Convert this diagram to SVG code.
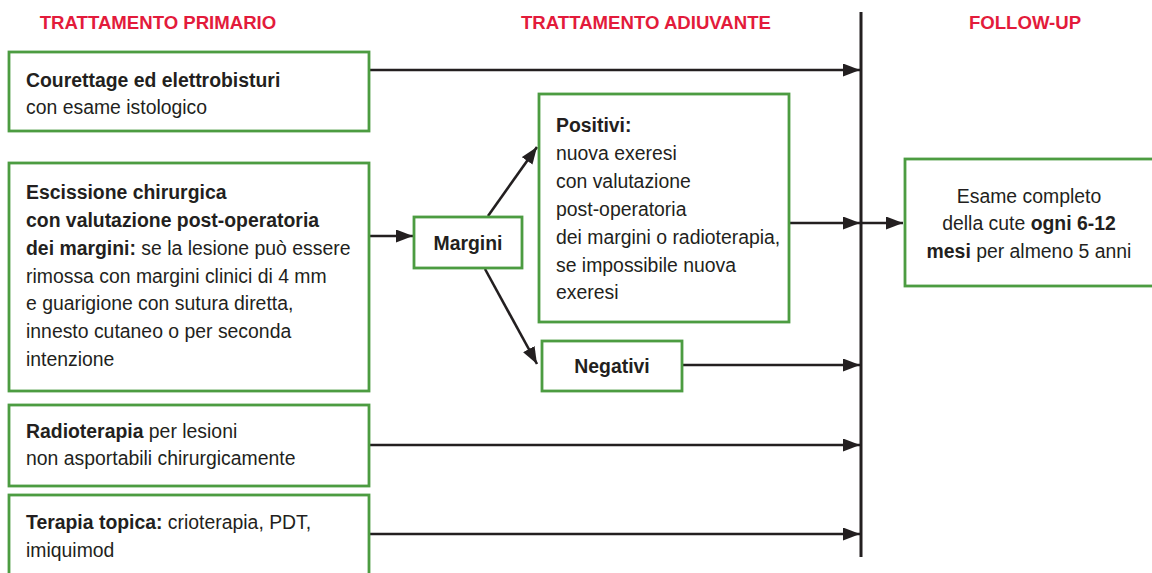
<svg xmlns="http://www.w3.org/2000/svg" width="1152" height="573" viewBox="0 0 1152 573">
<defs>
<style>
.hdr{font-family:"Liberation Sans",Arial,sans-serif;font-weight:bold;font-size:18.6px;fill:#e31b3b}
.t{font-family:"Liberation Sans",Arial,sans-serif;font-size:19.4px;fill:#231f20}
.b{font-weight:bold}
.box{fill:#fff;stroke:#4c9c41;stroke-width:2.8}
.c{stroke:#231f20;stroke-width:2.6;fill:none}
</style>
<marker id="ah" markerWidth="18" markerHeight="13" refX="17" refY="6.5" orient="auto" markerUnits="userSpaceOnUse">
<path d="M0,0 L17,6.5 L0,13 z" fill="#231f20"/>
</marker>
</defs>
<rect width="1152" height="573" fill="#fff"/>

<g id="headers">
<text class="hdr" x="158" y="29" text-anchor="middle">TRATTAMENTO PRIMARIO</text>
<text class="hdr" x="646" y="29" text-anchor="middle">TRATTAMENTO ADIUVANTE</text>
<text class="hdr" x="1025" y="29" text-anchor="middle">FOLLOW-UP</text>
</g>

<g id="connectors">
<line x1="861" y1="12" x2="861" y2="557" stroke="#231f20" stroke-width="3"/>
<line class="c" x1="370" y1="70" x2="860" y2="70" marker-end="url(#ah)"/>
<line class="c" x1="369" y1="236" x2="413" y2="236" marker-end="url(#ah)"/>
<line class="c" x1="488" y1="216" x2="537" y2="147" marker-end="url(#ah)"/>
<line class="c" x1="485" y1="269" x2="537" y2="364" marker-end="url(#ah)"/>
<line class="c" x1="789" y1="223" x2="860" y2="223" marker-end="url(#ah)"/>
<line class="c" x1="861" y1="223" x2="903" y2="223" marker-end="url(#ah)"/>
<line class="c" x1="682" y1="365" x2="860" y2="365" marker-end="url(#ah)"/>
<line class="c" x1="369" y1="445" x2="860" y2="445" marker-end="url(#ah)"/>
<line class="c" x1="369" y1="534" x2="860" y2="534" marker-end="url(#ah)"/>
</g>

<g id="courettage">
<rect class="box" x="9" y="52" width="360" height="79"/>
<text class="t" x="26" y="87"><tspan class="b">Courettage ed elettrobisturi</tspan></text>
<text class="t" x="26" y="114">con esame istologico</text>
</g>

<g id="escissione">
<rect class="box" x="9" y="163" width="360" height="228"/>
<text class="t" x="26" y="199"><tspan class="b">Escissione chirurgica</tspan></text>
<text class="t" x="26" y="227"><tspan class="b">con valutazione post-operatoria</tspan></text>
<text class="t" x="26" y="255"><tspan class="b">dei margini:</tspan> se la lesione può essere</text>
<text class="t" x="26" y="283">rimossa con margini clinici di 4 mm</text>
<text class="t" x="26" y="310">e guarigione con sutura diretta,</text>
<text class="t" x="26" y="338">innesto cutaneo o per seconda</text>
<text class="t" x="26" y="366">intenzione</text>
</g>

<g id="margini">
<rect class="box" x="414" y="217" width="108" height="51"/>
<text class="t b" x="468" y="250" text-anchor="middle">Margini</text>
</g>

<g id="positivi">
<rect class="box" x="539" y="94" width="250" height="228"/>
<text class="t" x="556" y="132"><tspan class="b">Positivi:</tspan></text>
<text class="t" x="556" y="160">nuova exeresi</text>
<text class="t" x="556" y="188">con valutazione</text>
<text class="t" x="556" y="216">post-operatoria</text>
<text class="t" x="556" y="244">dei margini o radioterapia,</text>
<text class="t" x="556" y="272">se impossibile nuova</text>
<text class="t" x="556" y="299">exeresi</text>
</g>

<g id="negativi">
<rect class="box" x="542" y="341" width="140" height="50"/>
<text class="t b" x="612" y="373" text-anchor="middle">Negativi</text>
</g>

<g id="radioterapia">
<rect class="box" x="9" y="405" width="360" height="81"/>
<text class="t" x="26" y="438"><tspan class="b">Radioterapia</tspan> per lesioni</text>
<text class="t" x="26" y="465">non asportabili chirurgicamente</text>
</g>

<g id="topica">
<rect class="box" x="9" y="495" width="360" height="90"/>
<text class="t" x="26" y="529"><tspan class="b">Terapia topica:</tspan> crioterapia, PDT,</text>
<text class="t" x="26" y="557">imiquimod</text>
</g>

<g id="followup">
<rect class="box" x="905" y="159" width="252" height="127"/>
<text class="t" x="1029" y="203" text-anchor="middle">Esame completo</text>
<text class="t" x="1029" y="230" text-anchor="middle">della cute <tspan class="b">ogni 6-12</tspan></text>
<text class="t" x="1029" y="258" text-anchor="middle"><tspan class="b">mesi</tspan> per almeno 5 anni</text>
</g>
</svg>
